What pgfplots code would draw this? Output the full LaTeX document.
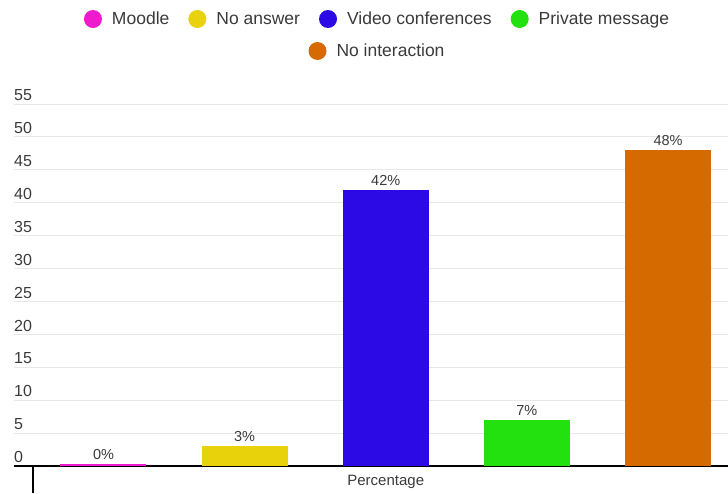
\documentclass[border=0pt]{standalone}
\usepackage{pgfplots}
\pgfplotsset{compat=1.18}
\usepackage{fontspec}
\setmainfont{Liberation Sans}
\definecolor{cMoodle}{HTML}{EE1ACD}
\definecolor{cNoAns}{HTML}{E8D20C}
\definecolor{cVideo}{HTML}{2B0AE6}
\definecolor{cPriv}{HTML}{22E10E}
\definecolor{cNoInt}{HTML}{D46A00}
\definecolor{txt}{HTML}{3A3A3A}
\definecolor{gridc}{HTML}{E8E8E8}
\pgfplotsset{
  dot legend/.style={legend image code/.code={\fill[##1, draw=none] (0pt,0pt) circle (9pt);}},
  common/.style={
    at={(14pt,27pt)}, anchor=south west,
    scale only axis, width=714pt, height=362pt,
    xmin=-0.634, xmax=4.425, ymin=0, ymax=55,
    legend style={draw=none, fill=none, anchor=center,
      font=\fontsize{17.5}{20}\selectfont, text=txt,
      nodes={inner sep=0pt},
      /tikz/every odd column/.append style={column sep=10pt},
      /tikz/every even column/.append style={column sep=19pt}},
  },
  barstyle/.style={ybar, bar width=86pt, bar shift=0pt, draw=none, fill=#1,
    nodes near coords={\pgfmathprintnumber[fixed,precision=0]{\pgfplotspointmeta}\%},
    every node near coord/.append style={font=\fontsize{14.5}{17}\selectfont, text=txt,
      anchor=south, inner sep=0pt, yshift=4pt}},
}
\begin{document}
\begin{tikzpicture}[x=1pt,y=1pt]
\useasboundingbox (0,0) rectangle (728,493);
\begin{axis}[common,
  axis x line*=bottom, axis y line*=left,
  x axis line style={black, line width=1.5pt},
  y axis line style={draw=none},
  ytick={0,5,...,55},
  ymajorgrids, grid style={gridc, line width=1pt},
  ytick style={draw=none},
  /pgf/number format/assume math mode=true,
  yticklabel style={anchor=south west, inner sep=0pt, yshift=3pt, xshift=27pt,
    font=\fontsize{16}{19}\selectfont, text=txt},
  xtick={-0.5}, xticklabels={},
  tick align=outside,
  xtick style={black, line width=1.2pt},
  major tick length=27pt,
  extra x ticks={2}, extra x tick labels={Percentage},
  extra x tick style={major tick length=0pt, tick style={draw=none},
    xticklabel style={anchor=center, yshift=-16pt, font=\fontsize{15}{18}\selectfont, text=txt}},
  legend columns=4,
  legend style={at={(0.5077,1.2348)}},
]
\addlegendimage{dot legend, fill=cMoodle}
\addlegendentry{Moodle}
\addlegendimage{dot legend, fill=cNoAns}
\addlegendentry{No answer}
\addlegendimage{dot legend, fill=cVideo}
\addlegendentry{Video conferences}
\addlegendimage{dot legend, fill=cPriv}
\addlegendentry{Private message}
\addplot[barstyle=cMoodle, forget plot] coordinates {(0,0.3)};
\addplot[barstyle=cNoAns, forget plot] coordinates {(1,3)};
\addplot[barstyle=cVideo, forget plot] coordinates {(2,42)};
\addplot[barstyle=cPriv, forget plot] coordinates {(3,7)};
\addplot[barstyle=cNoInt, forget plot] coordinates {(4,48)};
\end{axis}
\begin{axis}[common, hide axis,
  legend style={at={(0.5077,1.1464)}}]
\addlegendimage{dot legend, fill=cNoInt}
\addlegendentry{No interaction}
\end{axis}
\end{tikzpicture}
\end{document}
